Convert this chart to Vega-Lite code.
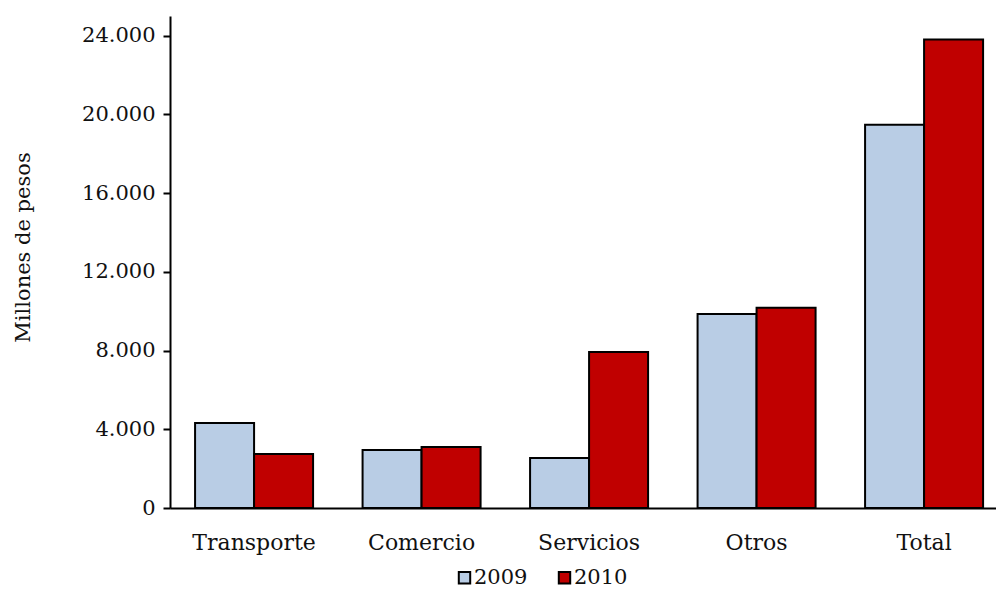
{
  "$schema": "https://vega.github.io/schema/vega-lite/v6.json",
  "width": 826,
  "height": 492,
  "autosize": "none",
  "padding": {"left": 170, "top": 16, "right": 0, "bottom": 84},
  "background": "white",
  "data": {"values": [
    {"cat": "Transporte", "year": "2009", "v": 4320},
    {"cat": "Transporte", "year": "2010", "v": 2750},
    {"cat": "Comercio", "year": "2009", "v": 2950},
    {"cat": "Comercio", "year": "2010", "v": 3100},
    {"cat": "Servicios", "year": "2009", "v": 2540},
    {"cat": "Servicios", "year": "2010", "v": 7930},
    {"cat": "Otros", "year": "2009", "v": 9860},
    {"cat": "Otros", "year": "2010", "v": 10170},
    {"cat": "Total", "year": "2009", "v": 19470},
    {"cat": "Total", "year": "2010", "v": 23800}
  ]},
  "mark": {"type": "bar", "stroke": "black", "strokeWidth": 2},
  "encoding": {
    "x": {
      "field": "cat", "type": "nominal", "sort": null,
      "scale": {"paddingInner": 0.2955, "paddingOuter": 0.1134, "align": 0.66},
      "axis": {"title": null, "labelAngle": 0, "ticks": false, "domainColor": "black", "domainWidth": 2, "labelPadding": 24, "labelFontSize": 22}
    },
    "xOffset": {"field": "year", "type": "nominal", "scale": {"paddingInner": 0, "paddingOuter": 0}},
    "y": {
      "field": "v", "type": "quantitative",
      "scale": {"domain": [0, 25000], "nice": false},
      "axis": {
        "title": "Millones de pesos", "titleFontSize": 21, "titleFontWeight": "normal", "titlePadding": 48, "titleY": 231,
        "values": [0, 4000, 8000, 12000, 16000, 20000, 24000],
        "labelExpr": "replace(format(datum.value, ','), ',', '.')",
        "grid": false, "domainColor": "black", "domainWidth": 2, "tickColor": "black", "tickWidth": 2, "tickSize": 7,
        "labelFontSize": 21, "labelPadding": 8
      }
    },
    "color": {
      "field": "year", "type": "nominal",
      "scale": {"domain": ["2009", "2010"], "range": ["#B9CDE5", "#C00000"]},
      "legend": {"title": null, "orient": "none", "legendX": 282, "legendY": 549, "direction": "horizontal", "symbolType": "square", "symbolStrokeColor": "black", "symbolStrokeWidth": 2, "symbolSize": 130, "labelFontSize": 21, "labelOffset": -1, "columnPadding": 26, "symbolOpacity": 1, "padding": 2}
    }
  },
  "config": {
    "font": "DejaVu Serif",
    "view": {"stroke": null},
    "axis": {"labelColor": "#111", "titleColor": "#111", "labelFont": "DejaVu Serif", "titleFont": "DejaVu Serif"},
    "legend": {"labelColor": "#111", "labelFont": "DejaVu Serif"}
  }
}
